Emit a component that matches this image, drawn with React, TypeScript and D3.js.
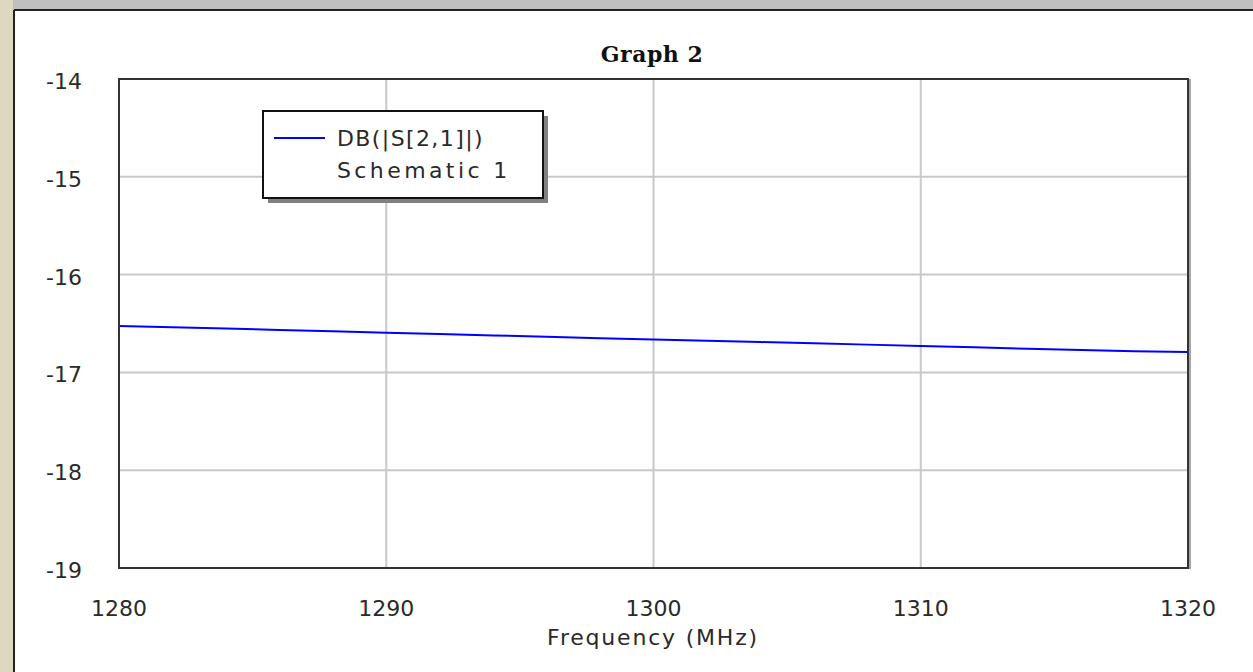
import React from "react";
import * as d3 from "d3";

const freqs = [1280, 1282, 1284, 1286, 1288, 1290, 1292, 1294, 1296, 1298, 1300, 1302, 1304, 1306, 1308, 1310, 1312, 1314, 1316, 1318, 1320];
const s21 = [-16.525, -16.538, -16.552, -16.566, -16.58, -16.594, -16.608, -16.622, -16.636, -16.65, -16.664, -16.677, -16.69, -16.703, -16.716, -16.73, -16.744, -16.758, -16.772, -16.784, -16.792];
const xTicks = [1280, 1290, 1300, 1310, 1320];
const yTicks = [-14, -15, -16, -17, -18, -19];
const title = "Graph 2";
const xLabel = "Frequency (MHz)";
const legendName = "DB(|S[2,1]|)";
const legendSource = "Schematic 1";

const W = 1253, H = 672;
const plot = { left: 119, right: 1188, top: 79, bottom: 568 };
const FONT = "'DejaVu Sans', sans-serif";
const TEXT = "#2a2a2a";

export default function App() {
  const x = d3.scaleLinear().domain([1280, 1320]).range([plot.left, plot.right]);
  const y = d3.scaleLinear().domain([-19, -14]).range([plot.bottom, plot.top]);
  const line = d3.line<number>().x((_, i) => x(freqs[i])).y((d) => y(d));
  const lg = { x: 263, y: 111, w: 280, h: 87 };
  return (
    <div style={{ position: "fixed", left: 0, top: 0, width: W, height: H }}>
      <svg width={W} height={H} style={{ display: "block" }}>
        <rect x={0} y={0} width={W} height={H} fill="#ffffff" />
        <rect x={0} y={0} width={W} height={10} fill="#c0c0c0" />
        <rect x={0} y={0} width={13} height={H} fill="#ddd8c0" />
        <line x1={14} y1={10} x2={W} y2={10} stroke="#222" strokeWidth={2} />
        <line x1={14} y1={10} x2={14} y2={H} stroke="#222" strokeWidth={2} />

        {/* grid */}
        {xTicks.slice(1, -1).map((t) => (
          <line key={"gx" + t} x1={x(t)} x2={x(t)} y1={plot.top} y2={plot.bottom} stroke="#c8c8c8" strokeWidth={2} />
        ))}
        {yTicks.slice(1, -1).map((t) => (
          <line key={"gy" + t} x1={plot.left} x2={plot.right} y1={y(t)} y2={y(t)} stroke="#c8c8c8" strokeWidth={2} />
        ))}

        {/* data */}
        <path d={line(s21) || ""} fill="none" stroke="#0000ff" strokeWidth={2} />

        {/* frame */}
        <rect x={plot.left} y={plot.top} width={plot.right - plot.left} height={plot.bottom - plot.top} fill="none" stroke="#333" strokeWidth={2} />
        <line x1={plot.right + 2} y1={plot.top} x2={plot.right + 2} y2={plot.bottom + 1} stroke="#888" strokeWidth={1.5} />

        {/* y ticks */}
        {yTicks.map((t) => (
          <text key={"yt" + t} x={82} y={y(t) + 10} textAnchor="end" fontFamily={FONT} fontSize={22} fill={TEXT}>
            {t}
          </text>
        ))}
        {/* x ticks */}
        {xTicks.map((t) => (
          <text key={"xt" + t} x={x(t)} y={616} textAnchor="middle" fontFamily={FONT} fontSize={22} fill={TEXT}>
            {t}
          </text>
        ))}
        <text x={653} y={645} textAnchor="middle" fontFamily={FONT} fontSize={22} letterSpacing={1.8} fill={TEXT}>
          {xLabel}
        </text>
        <text x={652} y={62} textAnchor="middle" fontFamily="'DejaVu Serif', serif" fontWeight="bold" fontSize={22} letterSpacing={0.5} fill="#111">
          {title}
        </text>

        {/* legend */}
        <rect x={lg.x + 5} y={lg.y + 5} width={lg.w} height={lg.h} fill="#808080" />
        <rect x={lg.x} y={lg.y} width={lg.w} height={lg.h} fill="#ffffff" stroke="#111" strokeWidth={2} />
        <line x1={274} x2={325} y1={138} y2={138} stroke="#0000ff" strokeWidth={2} />
        <text x={337} y={146} fontFamily={FONT} fontSize={22} letterSpacing={1.4} fill={TEXT}>
          {legendName}
        </text>
        <text x={337} y={178} fontFamily={FONT} fontSize={22} letterSpacing={3.4} fill={TEXT}>
          {legendSource}
        </text>
      </svg>
    </div>
  );
}
